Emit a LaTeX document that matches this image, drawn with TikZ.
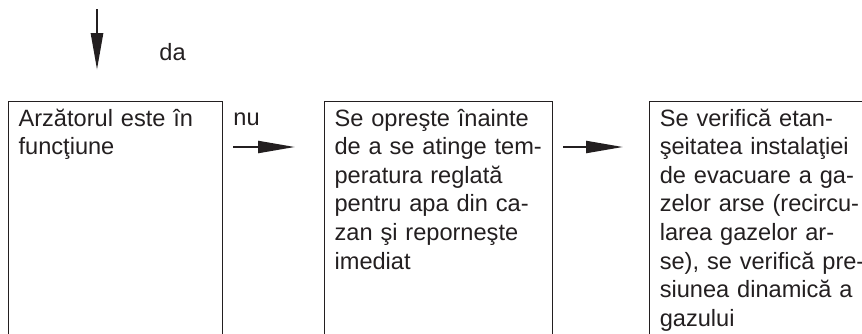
\documentclass[tikz,border=0pt]{standalone}
\usepackage{fontspec}
\setmainfont{Liberation Sans}
\usetikzlibrary{arrows.meta,positioning}
\definecolor{inkgray}{RGB}{35,31,32}
\tikzset{
  sbox/.style={draw=inkgray,line width=0.6pt,anchor=north west,
               inner xsep=5pt,inner ysep=0pt,align=left,
               text height=12.25pt,text depth=130pt,
               font=\fontsize{11.8}{14.3}\selectfont,text=inkgray},
  arr/.style={-{Triangle[length=18.5pt,width=6pt]},line width=1.1pt,color=inkgray},
  lbl/.style={font=\fontsize{11.8}{14.3}\selectfont,text=inkgray,
              inner sep=0pt,anchor=base west},
}

\begin{document}
\begin{tikzpicture}[x=0.5pt,y=-0.5pt]
  \useasboundingbox (0,0) rectangle (862,333);
  \clip (0,0) rectangle (862,333);

  \node[sbox,text width=97pt] (brn) at (8,101)
    {Arzătorul este în\\ funcţiune};
  \node[sbox,text width=104pt,right=50.4pt of brn] (stop)
    {Se opreşte înainte\\ \mbox{de a se atinge tem-}\\ peratura reglată\\
     pentru apa din ca-\\ zan şi reporneşte\\ imediat};
  \node[sbox,text width=110pt,right=48pt of stop] (chk)
    {Se verifică etan-\\ şeitatea instalaţiei\\ de evacuare a ga-\\
     zelor arse (recircu-\\ larea gazelor ar-\\ \mbox{se), se verifică pre-}\\
     siunea dinamică a\\ gazului};

  \node[lbl] (da) at (159,60) {da};
  \node[lbl] (nu) at (233,125) {nu};

  \coordinate (inTop) at (97,9);
  \coordinate (inEnd) at (97,70);
  \coordinate (nuA) at (233,147);
  \coordinate (nuB) at (295,147);
  \coordinate (goA) at (563,147);
  \coordinate (goB) at (623,147);

  \draw[arr,line width=1.4pt] (inTop) -- (inEnd);
  \draw[arr] (nuA) -- (nuB);
  \draw[arr] (goA) -- (goB);
\end{tikzpicture}
\end{document}
